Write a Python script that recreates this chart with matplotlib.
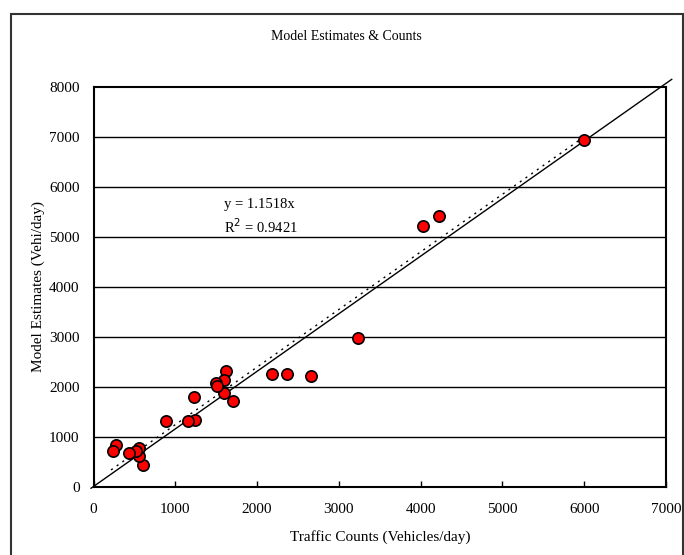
import matplotlib
matplotlib.use("Agg")
import matplotlib.pyplot as plt
import matplotlib.transforms as mtransforms
from matplotlib.patches import Rectangle
import numpy as np

plt.rcParams['font.family'] = ['Liberation Serif', 'DejaVu Serif']

# Data
traffic_counts = [6000, 4030, 4230, 3230, 2180, 2370, 2660, 1700, 1620, 1600, 1600,
                  1500, 1510, 1230, 1240, 1150, 890, 600, 560, 560, 520, 430, 280, 240]
model_estimates = [6930, 5210, 5410, 2970, 2250, 2250, 2210, 1720, 2310, 2140, 1880,
                   2080, 2010, 1800, 1340, 1310, 1320, 430, 610, 780, 720, 680, 840, 720]
slope = 1.1518
r2 = 0.9421
x_ticks = [0, 1000, 2000, 3000, 4000, 5000, 6000, 7000]
y_ticks = [0, 1000, 2000, 3000, 4000, 5000, 6000, 7000, 8000]

W, H = 684, 555
fig = plt.figure(figsize=(W / 100, H / 100), dpi=100)
ax = fig.add_axes([93.5 / W, 1 - 486.5 / H, (666 - 93.5) / W, 400 / H])

ax.set_xlim(0, 7000)
ax.set_ylim(0, 8000)
ax.set_xticks(x_ticks)
ax.set_yticks(y_ticks)

for yv in y_ticks[1:-1]:
    ax.axhline(yv, color='black', lw=1.0, zorder=1)

# solid reference line through origin, extended beyond the plot area
xs = np.array([-30, 7070])
ax.plot(xs, slope * xs, color='black', lw=1.0, clip_on=False, zorder=2)

# dotted trendline over the data range
xt = np.array([min(traffic_counts), max(traffic_counts)])
off = mtransforms.ScaledTranslation(-1.5 / 72, 2.0 / 72, fig.dpi_scale_trans)
ax.plot(xt, slope * xt, color='black', lw=1.0, linestyle=(0, (1.5, 3.5)),
        transform=ax.transData + off, zorder=2)

ax.scatter(traffic_counts, model_estimates, s=66, facecolor='#ff0000',
           edgecolor='black', linewidth=1.2, zorder=3)

ax.text(1600, 5640, f"y = {slope}x", fontsize=10.5, va='center', ha='left')
ax.text(1600, 5200, f"R$^2$ = {r2}", fontsize=10.5, va='center', ha='left')

for s in ax.spines.values():
    s.set_linewidth(1.5)
ax.tick_params(axis='both', direction='in', length=4, width=1, labelsize=11,
               colors='black')
ax.tick_params(axis='x', pad=12)
ax.tick_params(axis='y', length=0, pad=10)

ax.set_xlabel("Traffic Counts (Vehicles/day)", fontsize=11, labelpad=10)
ax.set_ylabel("Model Estimates (Vehi/day)", fontsize=11, labelpad=3)
fig.text(346 / W, 1 - 37 / H, "Model Estimates & Counts", fontsize=10,
         ha='center', va='center')

# outer chart frame
fig.patches.append(Rectangle((11 / W, -0.05), (683 - 11) / W, 1.05 - 14 / H,
                             transform=fig.transFigure, fill=False,
                             edgecolor='#333333', lw=1.5))

fig.savefig("out.png", dpi=100)
